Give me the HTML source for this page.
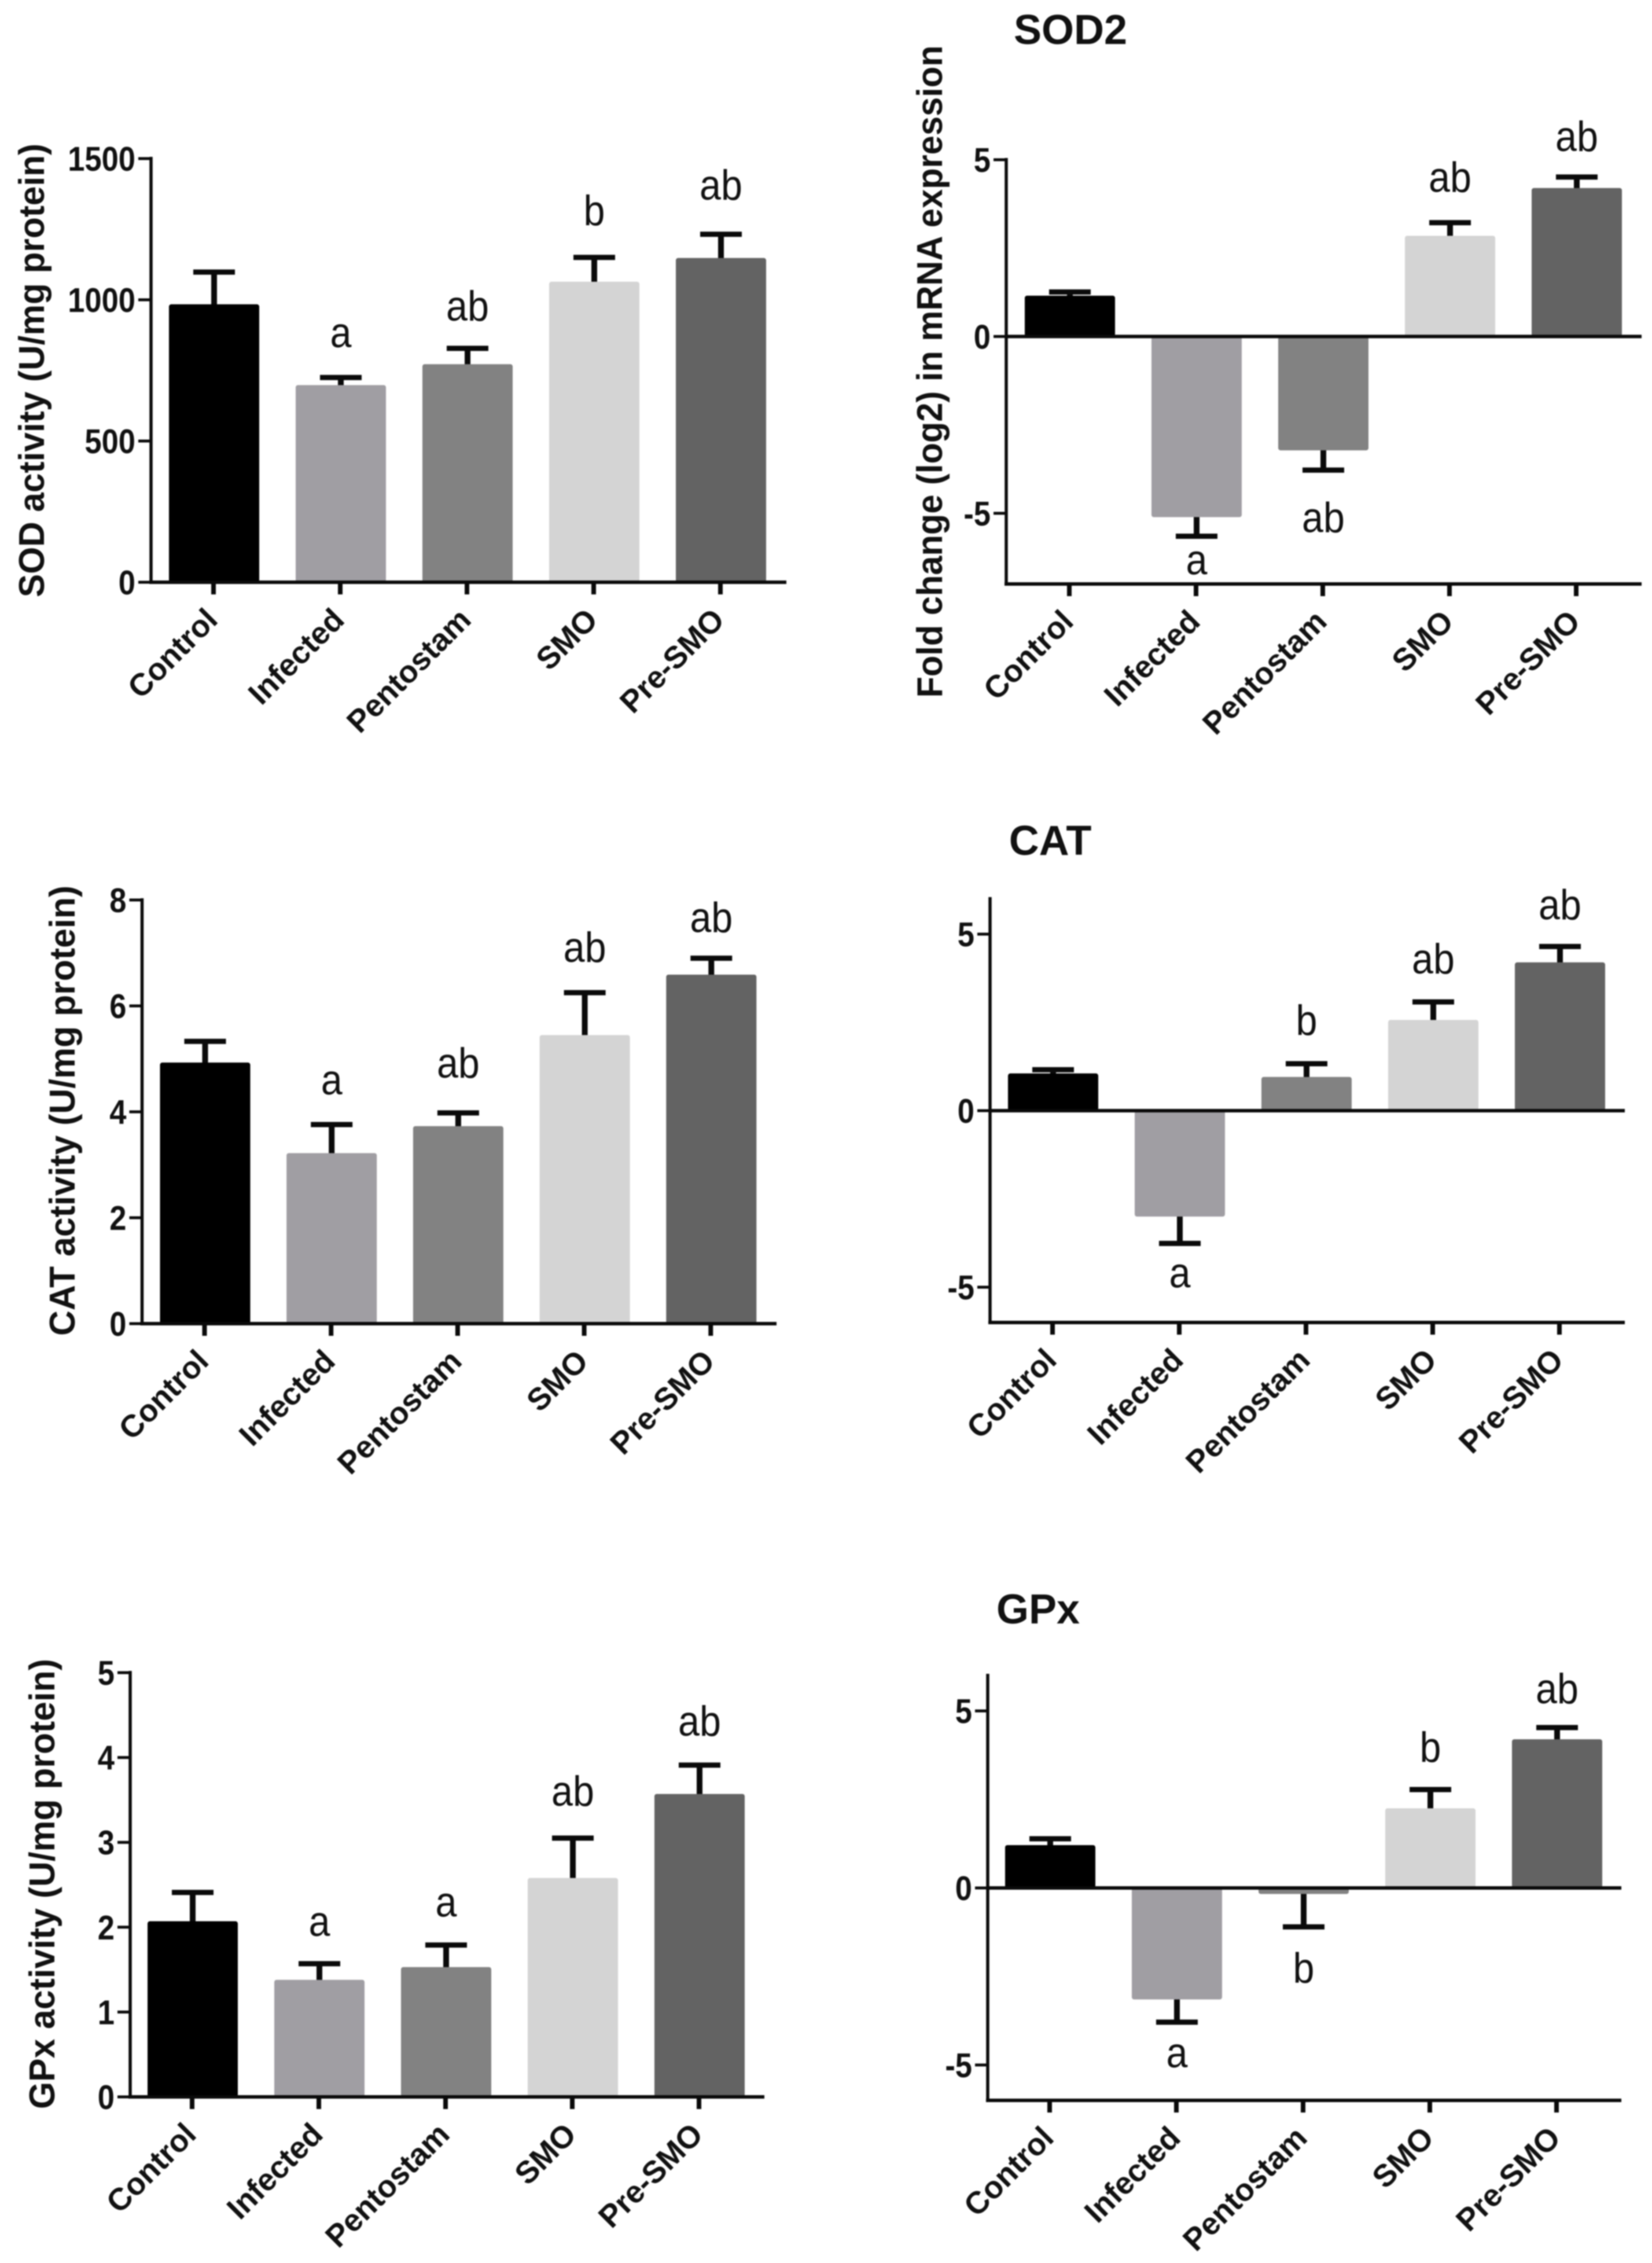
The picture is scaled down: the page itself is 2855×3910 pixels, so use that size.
<!DOCTYPE html>
<html lang="en">
<head>
<meta charset="utf-8">
<title>Antioxidant enzyme activity and mRNA expression</title>
<style>
html,body{margin:0;padding:0;background:#fff;}
body{width:2855px;height:3910px;overflow:hidden;}
svg{display:block;filter:blur(1.1px);}
text{font-family:"Liberation Sans",sans-serif;fill:#111;}
</style>
</head>
<body>
<svg id="figure" xmlns="http://www.w3.org/2000/svg" width="2855" height="3910" viewBox="0 0 2855 3910"></svg>
<script>
const categories = ["Control", "Infected", "Pentostam", "SMO", "Pre-SMO"];

const sodActivityValues = [984, 698, 772, 1064, 1148];
const sodActivityErrors = [1098, 725, 828, 1150, 1232];
const sodActivityLetters = ["", "a", "ab", "b", "ab"];
const sodActivityTicks = [0, 500, 1000, 1500];

const sod2Values = [1.155, -5.11, -3.22, 2.85, 4.2];
const sod2Errors = [1.26, -5.65, -3.78, 3.22, 4.51];
const sod2Letters = ["", "a", "ab", "ab", "ab"];
const sod2Ticks = [-5, 0, 5];

const catActivityValues = [4.93, 3.22, 3.73, 5.45, 6.59];
const catActivityErrors = [5.33, 3.76, 3.98, 6.25, 6.9];
const catActivityLetters = ["", "a", "ab", "ab", "ab"];
const catActivityTicks = [0, 2, 4, 6, 8];

const catMrnaValues = [1.055, -3.0, 0.955, 2.57, 4.2];
const catMrnaErrors = [1.16, -3.76, 1.33, 3.08, 4.65];
const catMrnaLetters = ["", "a", "b", "ab", "ab"];
const catMrnaTicks = [-5, 0, 5];

const gpxActivityValues = [2.07, 1.38, 1.53, 2.58, 3.57];
const gpxActivityErrors = [2.41, 1.57, 1.79, 3.05, 3.91];
const gpxActivityLetters = ["", "a", "a", "ab", "ab"];
const gpxActivityTicks = [0, 1, 2, 3, 4, 5];

const gpxMrnaValues = [1.21, -3.15, -0.17, 2.25, 4.2];
const gpxMrnaErrors = [1.39, -3.79, -1.1, 2.78, 4.53];
const gpxMrnaLetters = ["", "a", "b", "b", "ab"];
const gpxMrnaTicks = [-5, 0, 5];

const barColors = ["#000000", "#a09ea3", "#828282", "#d4d4d4", "#636363"];

const panels = [
  {id:"sod-activity", values:sodActivityValues, errors:sodActivityErrors, letters:sodActivityLetters, ticks:sodActivityTicks,
   yMin:0, yMax:1500, axisX:261, yTop:274, yBottom:1006, rightX:1359, firstX:370, stepX:219,
   yTitle:"SOD activity (U/mg protein)", yTitleX:76, yTitleY:640, yTitleLen:784, gaps:[0,52,48,56,60]},
  {id:"sod2", values:sod2Values, errors:sod2Errors, letters:sod2Letters, ticks:sod2Ticks,
   yMin:-7, yMax:5, axisX:1739, yTop:276, yBottom:1009, rightX:2837, firstX:1849, stepX:219,
   yTitle:"Fold change (log2) in mRNA expression", yTitleX:1628, yTitleY:642, yTitleLen:1127, gaps:[0,66,107,53,45],
   title:"SOD2", titleX:1850, titleY:76},
  {id:"cat-activity", values:catActivityValues, errors:catActivityErrors, letters:catActivityLetters, ticks:catActivityTicks,
   yMin:0, yMax:8, axisX:245.5, yTop:1555, yBottom:2287, rightX:1342, firstX:354.5, stepX:218.7,
   yTitle:"CAT activity (U/mg protein)", yTitleX:129, yTitleY:1919, yTitleLen:778, gaps:[0,52,61,53,45]},
  {id:"cat-mrna", values:catMrnaValues, errors:catMrnaErrors, letters:catMrnaLetters, ticks:catMrnaTicks,
   yMin:-6, yMax:6, axisX:1711, yTop:1553, yBottom:2285, rightX:2808, firstX:1820, stepX:219,
   title:"CAT", titleX:1815, titleY:1477, gaps:[0,76,50,49,47]},
  {id:"gpx-activity", values:gpxActivityValues, errors:gpxActivityErrors, letters:gpxActivityLetters, ticks:gpxActivityTicks,
   yMin:0, yMax:5, axisX:225, yTop:2890, yBottom:3623, rightX:1321, firstX:333, stepX:219,
   yTitle:"GPx activity (U/mg protein)", yTitleX:94, yTitleY:3255, yTitleLen:778, gaps:[0,48,49,56,51]},
  {id:"gpx-mrna", values:gpxMrnaValues, errors:gpxMrnaErrors, letters:gpxMrnaLetters, ticks:gpxMrnaTicks,
   yMin:-6, yMax:6, axisX:1707, yTop:2895, yBottom:3629, rightX:2802, firstX:1815, stepX:219,
   title:"GPx", titleX:1794, titleY:2805, gaps:[0,78,96,48,42]}
];

const NS = "http://www.w3.org/2000/svg";
const figure = document.getElementById("figure");

function line(parent, x1, y1, x2, y2, w) {
  const el = document.createElementNS(NS, "line");
  el.setAttribute("x1", x1);
  el.setAttribute("y1", y1);
  el.setAttribute("x2", x2);
  el.setAttribute("y2", y2);
  el.setAttribute("stroke", "#0a0a0a");
  el.setAttribute("stroke-width", w);
  parent.appendChild(el);
  return el;
}

function label(parent, str, x, y, size, weight, anchor, rotation, length, sx) {
  const el = document.createElementNS(NS, "text");
  el.textContent = str;
  el.setAttribute("font-size", size);
  el.setAttribute("font-weight", weight);
  el.setAttribute("text-anchor", anchor);
  el.setAttribute("transform", "translate(" + x + " " + y + ") scale(" + (sx || 1) + " 1) rotate(" + rotation + ")");
  if (length) {
    el.setAttribute("textLength", length);
    el.setAttribute("lengthAdjust", "spacingAndGlyphs");
  }
  parent.appendChild(el);
  return el;
}

function drawPanel(p) {
  const g = document.createElementNS(NS, "g");
  
  
  figure.appendChild(g);

  const yScale = v => p.yBottom - (v - p.yMin) / (p.yMax - p.yMin) * (p.yBottom - p.yTop);
  const xScale = i => p.firstX + i * p.stepX;
  const zeroY = yScale(0);

  categories.forEach((name, i) => {
    const cx = xScale(i);
    const vy = yScale(p.values[i]);
    const ey = yScale(p.errors[i]);
    const dir = ey < vy ? 1 : -1;

    const stem = line(g, cx, vy + dir * 4, cx, ey, 10);
    
    

    const cap = line(g, cx - 36, ey, cx + 36, ey, 9);
    
    

    const bar = document.createElementNS(NS, "rect");
    bar.setAttribute("x", cx - 78);
    bar.setAttribute("y", Math.min(vy, zeroY));
    bar.setAttribute("width", 156);
    bar.setAttribute("height", Math.abs(zeroY - vy));
    bar.setAttribute("rx", 4);
    bar.setAttribute("fill", barColors[i]);
    
    
    g.appendChild(bar);

    const tick = line(g, cx - 1, p.yBottom, cx - 1, p.yBottom + 21, 8);
    
    

    const xl = label(g, name, cx + 9, p.yBottom + 68, 54, "bold", "end", -45);
    
    

    if (p.letters[i]) {
      const ly = p.errors[i] < 0 ? ey + p.gaps[i] : ey - p.gaps[i];
      const lt = label(g, p.letters[i], cx, ly, 73, "normal", "middle", 0, 0, 0.91);
      
      
    }
  });

  const yAxis = line(g, p.axisX, p.yTop - 3, p.axisX, p.yBottom + 3, 5.5);
  
  

  const xAxis = line(g, p.axisX - 3, p.yBottom, p.rightX, p.yBottom, 6);
  
  

  if (p.yMin < 0) {
    const zero = line(g, p.axisX, zeroY, p.rightX, zeroY, 6);
    
    
  }

  p.ticks.forEach(t => {
    const ty = yScale(t);
    const tk = line(g, p.axisX - 22, ty, p.axisX, ty, 5);
    
    

    const tl = label(g, String(t), p.axisX - 27, ty + 21, 59, "bold", "end", 0, 0, 0.89);
    
    
  });

  if (p.yTitle) {
    const yt = label(g, p.yTitle, p.yTitleX, p.yTitleY, 62, "bold", "middle", -90, p.yTitleLen);
    
    
  }

  if (p.title) {
    const ti = label(g, p.title, p.titleX, p.titleY, 72, "bold", "middle", 0);
    
    
  }
}

panels.forEach(drawPanel);
</script>
</body>
</html>
